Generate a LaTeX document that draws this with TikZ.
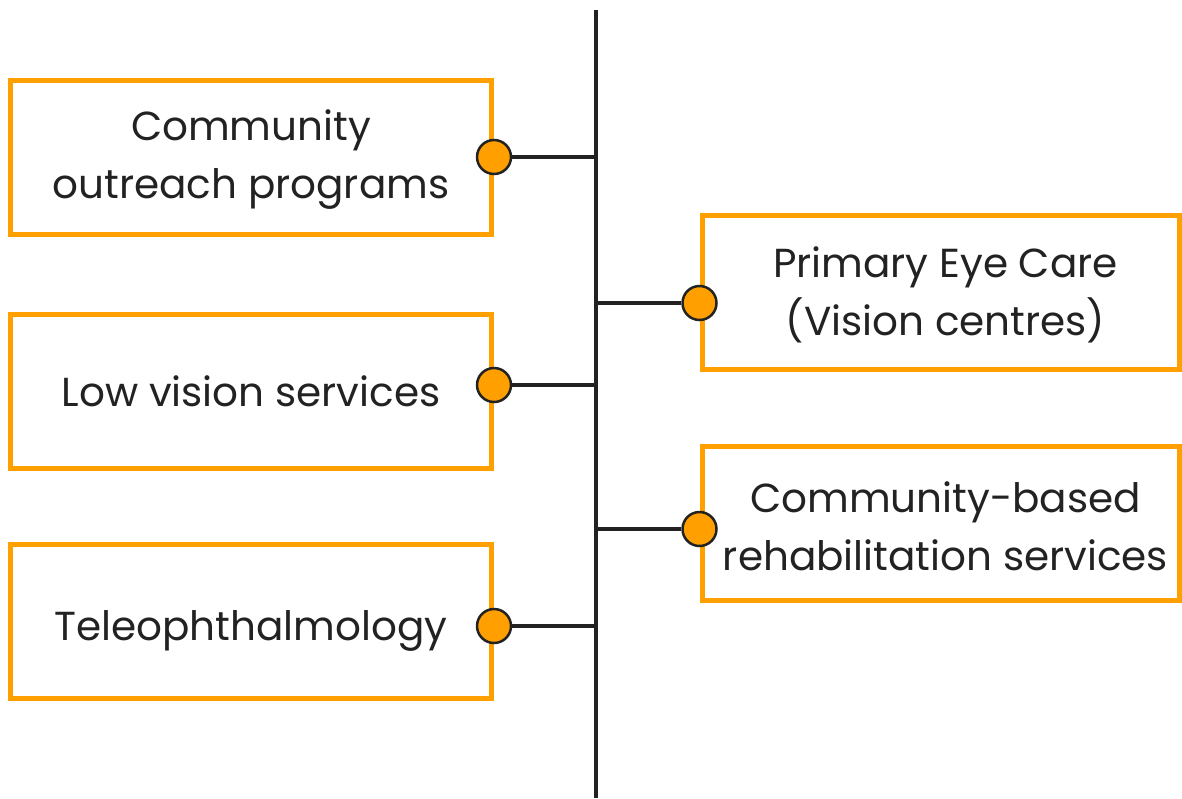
\documentclass[tikz,border=0pt]{standalone}
\usepackage{fontspec}
\setmainfont{Poppins}
\usetikzlibrary{positioning}
\definecolor{boxorange}{RGB}{255,160,0}
\definecolor{darkline}{RGB}{34,34,34}
% move a line of text without changing the size of its box
\newcommand{\nudge}[3]{\hspace*{#1}\raisebox{#2}[\height][\depth]{#3}}

\begin{document}
\begin{tikzpicture}[x=1pt,y=-1pt,
    service/.style={draw=boxorange, line width=5pt, minimum width=481pt, minimum height=154pt,
      inner sep=0pt, align=center, text=darkline, font=\fontsize{40.5}{58}\selectfont},
    dot/.style={circle, fill=boxorange, draw=darkline, line width=2.5pt, minimum size=34pt, inner sep=0pt},
    link/.style={draw=darkline, line width=3.5pt}]

    \useasboundingbox (0,0) rectangle (1182,798);

    % central spine
    \coordinate (spinetop) at (596,10);
    \coordinate (spinebot) at (596,798);
    \draw[link, line width=4pt] (spinetop) -- (spinebot);

    % left column
    \node[service] (outreach) at (251,157) {\nudge{0pt}{-3pt}{Community}\\\nudge{0pt}{-3pt}{outreach programs}};
    \node[service] (lowvision) at (251,391) {Low vision services};
    \node[service] (tele) at (251,621) {\nudge{0pt}{-10pt}{Teleophthalmology}};

    % right column
    \node[service, minimum width=477pt] (primary) at (940.5,292.5) {\nudge{10pt}{-2pt}{Primary Eye Care}\\\nudge{10pt}{-2pt}{(Vision centres)}};
    \node[service, minimum width=477pt] (rehab) at (940.5,523.5) {\nudge{10pt}{-3pt}{Community-based}\\\nudge{10pt}{-3pt}{rehabilitation services}};

    % connectors
    \node[dot] (outreach-d) at (outreach.east) {};
    \node[dot] (lowvision-d) at ([yshift=6pt]lowvision.east) {};
    \node[dot] (tele-d) at ([yshift=-5pt]tele.east) {};
    \node[dot] (primary-d) at ([yshift=-10.5pt]primary.west) {};
    \node[dot] (rehab-d) at ([yshift=-5.5pt]rehab.west) {};

    \draw[link] (outreach-d) -- (outreach-d -| spinetop);
    \draw[link] (lowvision-d) -- (lowvision-d -| spinetop);
    \draw[link] (tele-d) -- (tele-d -| spinetop);
    \draw[link] (primary-d) -- (primary-d -| spinetop);
    \draw[link] (rehab-d) -- (rehab-d -| spinetop);

\end{tikzpicture}
\end{document}
